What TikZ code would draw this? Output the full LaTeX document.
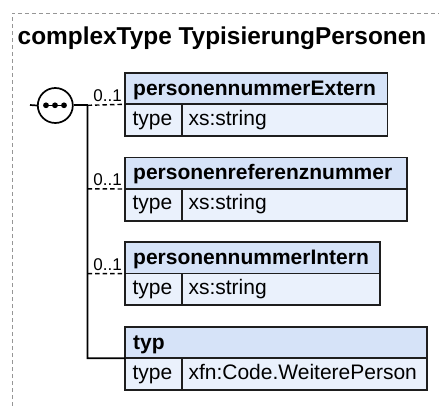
\documentclass[tikz,border=0pt]{standalone}
\usepackage{fontspec}
\setmainfont{Liberation Sans}
\definecolor{hdrfill}{RGB}{214,227,248}
\definecolor{rowfill}{RGB}{234,241,252}
\definecolor{framegray}{RGB}{150,150,150}
\definecolor{boxline}{RGB}{30,30,30}
\begin{document}
\begin{tikzpicture}[x=1pt,y=-1pt,
  boxline/.style={draw=boxline,line width=1.7pt},
  hdr/.style={anchor=base west,inner sep=0pt,font=\fontsize{21}{21}\selectfont\bfseries},
  cell/.style={anchor=base west,inner sep=0pt,font=\fontsize{21}{21}\selectfont},
  card/.style={anchor=base east,inner sep=0pt,font=\fontsize{17}{17}\selectfont},
  conn/.style={draw=black,line width=1.7pt},
  optconn/.style={draw=black,line width=1.4pt,dash pattern=on 4.5pt off 3pt}]
\useasboundingbox (0,0) rectangle (439,406);
% frame
\draw[framegray,line width=0.9pt,dash pattern=on 4pt off 3pt] (12,406) -- (12,13) -- (439,13);
\node[anchor=base west,inner sep=0pt,font=\fontsize{24.4}{24.4}\selectfont\bfseries] (title) at (17.5,44.5) {complexType TypisierungPersonen};
% boxes
\foreach \i/\r/\name/\typ in {0/387.5/personennummerExtern/xs:string,1/407.3/personenreferenznummer/xs:string,2/380/personennummerIntern/xs:string,3/426.7/typ/xfn:Code.WeiterePerson}{
  \pgfmathsetmacro{\t}{72.7+84.67*\i}
  \pgfmathsetmacro{\m}{\t+31.6}
  \pgfmathsetmacro{\b}{\t+63.3}
  \fill[hdrfill] (125.3,\t) rectangle (\r,\m);
  \fill[rowfill] (125.3,\m) rectangle (\r,\b);
  \draw[boxline] (125.3,\t) rectangle (\r,\b);
  \draw[boxline] (125.3,\m) -- (\r,\m);
  \draw[boxline] (181.7,\m) -- (181.7,\b);
  \node[hdr] (h\i) at (133,\t+22.4) {\name};
  \node[cell] (k\i) at (132.3,\m+20.8) {type};
  \node[cell] (v\i) at (188.3,\m+20.8) {\typ};
  \coordinate (e\i) at (125.3,\m);
}
% sequence symbol
\coordinate (in) at (30,105);
\node[circle,draw=black,line width=1.7pt,minimum size=35pt,inner sep=0pt,fill=white] (seq) at (55.3,105.5) {};
\draw[conn] (in) -- (seq.west);
\coordinate (j0) at (87.5,105.3);
\coordinate (j1) at (87.5,188.9);
\coordinate (j2) at (87.5,273.6);
\coordinate (j3) at (87.5,358.3);
\draw[conn] (seq.east |- j0) -- (j0);
\draw[line width=1.5pt] (45.5,105.3) -- (64.5,105.3);
\foreach \dx in {46,55,64}{\fill (\dx,105.3) circle (2.9pt);}
\draw[conn] (j0) -- (j3) -- (e3);
\draw[optconn] (j0) -- (e0);
\draw[optconn] (j1) -- (e1);
\draw[optconn] (j2) -- (e2);
\node[card] (c0) at (122,101.8) {0..1};
\node[card] (c1) at (122,185.5) {0..1};
\node[card] (c2) at (122,270.2) {0..1};
\end{tikzpicture}
\end{document}
